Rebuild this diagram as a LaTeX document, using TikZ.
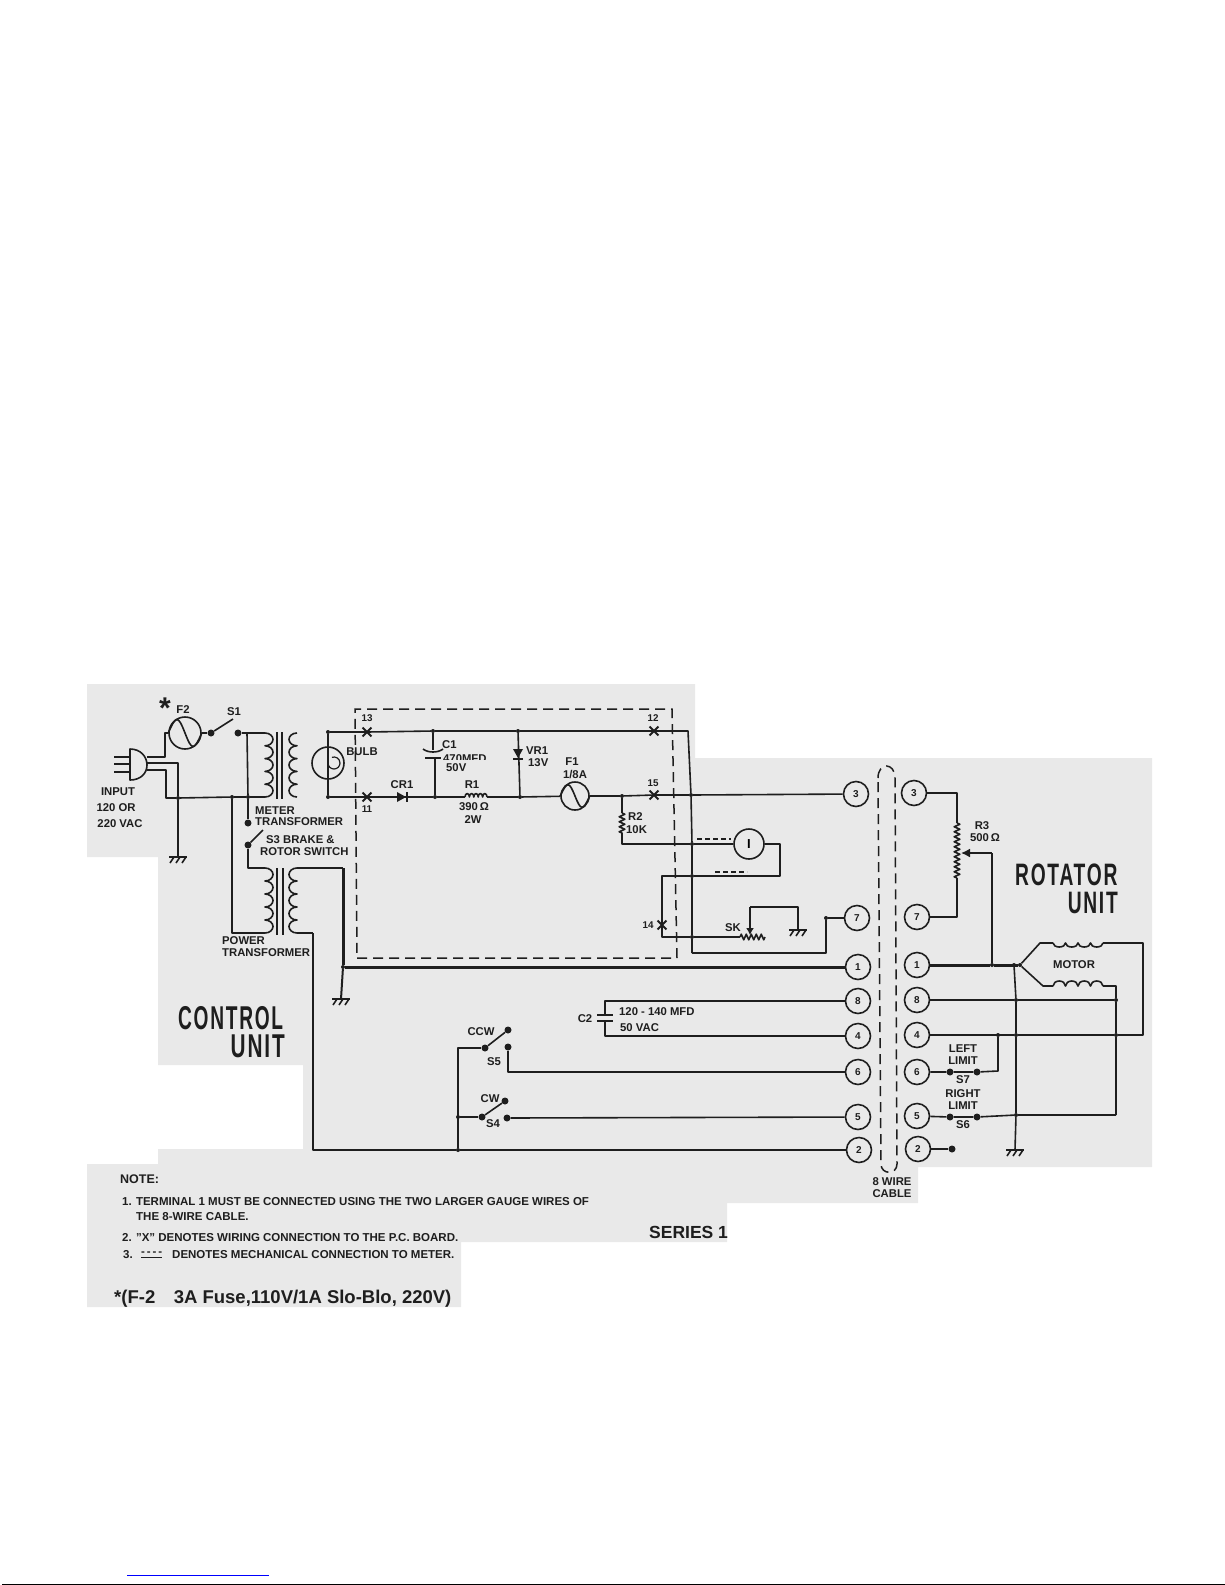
\documentclass[tikz,border=0pt]{standalone}
\usepackage{fontspec}
\usepackage{graphicx}
\setmainfont{Liberation Sans}
\newfontfamily\headfont[LetterSpace=9]{Liberation Sans}
\usetikzlibrary{shapes.misc,decorations.pathmorphing,arrows.meta}
\definecolor{panelgray}{HTML}{E9E9E9}
\definecolor{ink}{HTML}{1E1E1E}
\tikzset{
	wire/.style={draw=ink,line width=1.6pt,line join=round},
	heavy/.style={draw=ink,line width=3pt,line join=round},
	dot/.style={circle,fill=ink,inner sep=0pt,minimum size=7pt},
	jn/.style={circle,fill=ink,inner sep=0pt,minimum size=4pt},
	term/.style={circle,draw=ink,line width=1.6pt,inner sep=0pt,minimum size=25pt,font=\fontsize{10}{10}\selectfont\bfseries,text=ink},
	ring/.style={circle,draw=ink,line width=1.6pt,inner sep=0pt,minimum size=#1},
	xmark/.style={cross out,draw=ink,line width=1.8pt,inner sep=0pt,minimum size=7pt},
	lab/.style={inner sep=0pt,text=ink,font=\fontsize{11.3}{12}\selectfont\bfseries},
	smalllab/.style={inner sep=0pt,text=ink,font=\fontsize{9.8}{11}\selectfont\bfseries},
	notelab/.style={inner sep=0pt,anchor=west,text=ink,font=\fontsize{11.5}{12}\selectfont\bfseries},
	cablewall/.style={draw=ink,line width=1.5pt,dash pattern=on 10pt off 6pt},
	mech/.style={draw=ink,line width=1.6pt,dash pattern=on 5pt off 3pt},
	zig/.style={wire,decorate,decoration={zigzag,amplitude=2.8pt,segment length=5pt}},
	pics/gnd/.style={code={
		\draw[wire](-9,0)--(9,0);
		\foreach \t in {-6,0,6}{\draw[wire](\t+2,0)--(\t-2,6);}
	}},
	pics/diode/.style={code={
		\fill[ink](-5,-5)--(-5,5)--(4,0)--cycle;
		\draw[wire](5,-5)--(5,5);
	}},
}
\newcommand{\coilv}[5]{\draw[wire](#1)\foreach \k in {1,...,#2}{arc[start angle=-90,end angle=#5,x radius=#4,y radius=#3]};}
\newcommand{\coilh}[5]{\draw[wire](#1)\foreach \k in {1,...,#2}{arc[start angle=180,end angle=#5,x radius=#3,y radius=#4]};}
\begin{document}
\begin{tikzpicture}[x=1pt,y=-1pt]
	\useasboundingbox(0,0)rectangle(1225,1585);
	\fill[panelgray](87,684)--(695,684)--(695,758)--(1152,758)--(1152,1167)--(918,1167)--(918,1203)--(727,1203)--(727,1242)--(461,1242)--(461,1307)--(87,1307)--(87,1164)--(158,1164)--(158,1149)--(303,1149)--(303,1065)--(158,1065)--(158,857)--(87,857)--cycle;
	\draw[blue,line width=1pt](127,1575)--(269,1575);
	\draw[black,line width=1.2pt](2,1584.4)--(1225,1584.4);

	\coordinate(plug1) at (130,749);
	\coordinate(plug2) at (130,780);
	\coordinate(pl1) at (147,757);
	\coordinate(pl2) at (147,763);
	\coordinate(pl3) at (147,770);
	\draw[wire](plug1)..controls (141,749) and (147,757)..(147,765)..controls (147,773) and (141,780)..(plug2)--cycle;
	\draw[wire](114,757)--(130,757);
	\draw[wire](114,764)--(130,764);
	\draw[wire](114,772)--(130,772);
	\node[ring=32pt](f2) at (185,733){};
	\draw[wire](pl1)-|(165,733)--(f2);
	\draw[wire](f2.west)..controls +(8,-18) and +(-7,-18)..(f2.center)..controls +(7,18) and +(-8,18)..(f2.east);
	\node[dot](s1a) at (211,733){};
	\node[dot](s1b) at (238,733){};
	\coordinate(s1t) at (233,719);
	\draw[wire](f2)--(s1a);
	\draw[wire](s1a)--(s1t);
	\node[jn](jgnd) at (178,798){};
	\node[jn](jpw) at (232,797){};
	\node[jn](jmt) at (248,797){};
	\coordinate(mp1) at (265,733);
	\coordinate(mp2) at (265,797);
	\coordinate(ms1) at (297,733);
	\coordinate(ms2) at (297,797);
	\draw[wire](s1b)--(mp1);
	\draw[wire](247,733)--(jmt);
	\draw[wire](pl2)-|(jgnd);
	\draw[wire](pl3)-|(166,798)--(jgnd)--(jpw)--(jmt)--(mp2);
	\coilv{mp1}{5}{6.4}{8}{90}
	\coilv{ms1}{5}{6.4}{8}{-270}
	\draw[wire](277,732)--(277,799);
	\draw[wire](282,732)--(282,799);
	\coordinate(gnd1) at (178,857);
	\draw[wire](jgnd)--(gnd1);
	\pic at (gnd1){gnd};
	\node[dot](s3a) at (248,823){};
	\node[dot](s3b) at (248,845){};
	\coordinate(s3t) at (263,830);
	\draw[wire](jmt)--(s3a);
	\draw[wire](s3b)--(s3t);
	\coordinate(pp1) at (265,868);
	\coordinate(pp2) at (265,933);
	\coordinate(ps1) at (297,868);
	\coordinate(ps2) at (297,933);
	\draw[wire](s3b)|-(pp1);
	\draw[wire](jpw)|-(pp2);
	\coilv{pp1}{5}{6.5}{8}{90}
	\coilv{ps1}{5}{6.5}{8}{-270}
	\draw[wire](277,868)--(277,935);
	\draw[wire](283,868)--(283,935);

	\node[jn](jb1) at (328,732){};
	\node[jn](jb2) at (328,797){};
	\node[ring=32pt](bulb) at (328,763){};
	\draw[wire](jb1)--(jb2);
	\draw[wire,line width=1.2pt](bulb.center)arc[start angle=180,end angle=-110,radius=6];
	\node[xmark](x13) at (367,732){};
	\node[xmark](x12) at (654,731){};
	\node[xmark](x11) at (367,797){};
	\node[xmark](x15) at (654,795){};
	\node[xmark](x14) at (662,925){};
	\node[jn](jc1) at (433,731){};
	\node[jn](jz1) at (518,731){};
	\node[jn](jc2) at (435,797){};
	\node[jn](jz2) at (520,797){};
	\node[jn](jr2) at (622,796){};
	\coordinate(ctr) at (688,731);
	\node[jn](jv3) at (691,795){};
	\node[jn](jv2) at (692,844){};
	\node[jn](jv1) at (692,876){};
	\node[jn](jv0) at (692,937){};
	\coordinate(cvb) at (692,953);
	\draw[wire](jb1)--(x13.center)--(jc1)--(jz1)--(x12.center)--(ctr)--(jv3)--(jv2)--(jv1)--(jv0)--(cvb);
	\coordinate(r1a) at (465,797);
	\coordinate(r1b) at (487,797);
	\node[ring=28pt](f1) at (575,796){};
	\draw[wire](f1.west)..controls +(7,-15) and +(-6,-15)..(f1.center)..controls +(6,15) and +(-7,15)..(f1.east);
	\draw[wire](jb2)--(x11.center)--(jc2)--(r1a);
	\coilh{r1a}{5}{2.2}{3.5}{360}
	\draw[wire](r1b)--(jz2)--(f1);
	\pic at (402,797){diode};
	\draw[wire](f1)--(jr2)--(x15.center)--(jv3);
	\coordinate(c1a) at (433,750);
	\coordinate(c1b) at (435,758);
	\draw[wire](jc1)--(c1a);
	\draw[wire](c1b)--(jc2);
	\draw[wire](423,749)..controls (428,753) and (438,753)..(443,749);
	\draw[wire](425,758)--(441,758);
	\draw[wire](jz1)--(jz2);
	\pic[rotate=-90] at (518,754){diode};
	\coordinate(r2a) at (622,813);
	\coordinate(r2b) at (622,834);
	\coordinate(r2c) at (622,844);
	\draw[wire](jr2)--(r2a);
	\draw[zig](r2a)--(r2b);
	\draw[wire](r2b)--(r2c)--(jv2);

	\draw[cablewall](357,958)--(677,958)--(672,709)--(355,709)--cycle;

	\node[ring=30pt](meter) at (749,844){\fontsize{13}{13}\selectfont\bfseries I};
	\draw[wire](jv2)--(meter);
	\coordinate(m1a) at (697,839);
	\coordinate(m1b) at (731,839);
	\coordinate(m2a) at (715,872);
	\coordinate(m2b) at (747,872);
	\draw[mech](m1a)--(m1b);
	\draw[mech](m2a)--(m2b);
	\coordinate(cm) at (780,876);
	\draw[wire](meter)-|(cm)--(jv1);
	\coordinate(c14a) at (662,876);
	\coordinate(c14b) at (662,937);
	\draw[wire](jv1)--(c14a)--(x14.center)--(c14b)--(jv0);
	\coordinate(ska) at (740,937);
	\coordinate(skb) at (765,937);
	\draw[wire](jv0)--(ska);
	\draw[zig](ska)--(skb);
	\coordinate(skw) at (750,907);
	\coordinate(skg) at (798,930);
	\draw[wire,-{Latex[length=7pt,width=8pt]}](skw)--(750,935);
	\draw[wire](skw)-|(skg);
	\pic at (skg){gnd};

	\node[term](la3) at (856,794){3};
	\node[term](la7) at (857,918){7};
	\node[term](la1) at (858,967){1};
	\node[term](la8) at (858,1001){8};
	\node[term](la4) at (858,1036){4};
	\node[term](la6) at (858,1072){6};
	\node[term](la5) at (858,1117){5};
	\node[term](la2) at (859,1150){2};
	\node[term](ri3) at (914,793){3};
	\node[term](ri7) at (917,917){7};
	\node[term](ri1) at (917,965){1};
	\node[term](ri8) at (917,1000){8};
	\node[term](ri4) at (917,1035){4};
	\node[term](ri6) at (917,1072){6};
	\node[term](ri5) at (917,1116){5};
	\node[term](ri2) at (918,1149){2};
	\draw[wire](jv3)--(la3);
	\node[jn](j7) at (826,918){};
	\draw[wire](cvb)-|(j7)--(la7);

	\draw[cablewall](878,778)..controls (878,762) and (895,762)..(895,778)--(897,1164)..controls (897,1175) and (881,1175)..(881,1164)--cycle;

	\coordinate(ch) at (343,868);
	\node[jn](jh) at (343,967){};
	\coordinate(gnd2) at (341,999);
	\draw[wire,line width=2pt](ps1)--(ch);
	\draw[heavy](ch)--(jh)--(la1);
	\draw[wire,line width=2pt](jh)--(gnd2);
	\pic at (gnd2){gnd};
	\coordinate(cb1) at (313,933);
	\coordinate(cb2) at (313,1150);
	\node[jn](jb) at (458,1150){};
	\draw[wire](ps2)--(cb1);
	\draw[wire,line width=2pt](cb1)--(cb2)--(jb);
	\draw[wire,line width=2.4pt](jb)--(la2);

	\node[dot](s5a) at (485,1048){};
	\node[dot](s5b) at (508,1030){};
	\node[dot](s5c) at (508,1047){};
	\coordinate(cs5) at (508,1072);
	\draw[wire,line width=2pt](jb)|-(s5a);
	\draw[wire](s5a)--(s5b);
	\draw[wire](s5c)--(cs5)--(la6);
	\node[dot](s4a) at (482,1117){};
	\node[dot](s4b) at (505,1101){};
	\node[dot](s4c) at (507,1118){};
	\node[jn](j4) at (458,1117){};
	\draw[wire](j4)--(s4a);
	\draw[wire](s4a)--(s4b);
	\draw[wire](s4c)--(la5);
	\coordinate(c2a) at (605,1001);
	\coordinate(c2b) at (605,1015);
	\coordinate(c2c) at (605,1021);
	\coordinate(c2d) at (605,1036);
	\draw[wire](la8)--(c2a)--(c2b);
	\draw[wire](c2c)--(c2d)--(la4);
	\draw[wire](597,1015)--(613,1015);
	\draw[wire](597,1021)--(613,1021);

	\coordinate(r3a) at (957,823);
	\coordinate(r3b) at (957,878);
	\draw[wire](ri3)-|(r3a);
	\draw[zig](r3a)--(r3b);
	\draw[wire](r3b)|-(ri7);
	\coordinate(r3w) at (992,853);
	\node[jn](j1w) at (992,965){};
	\draw[wire,-{Latex[length=9pt,width=9pt]}](r3w)--(961,853);
	\draw[wire](r3w)--(j1w);
	\node[jn](jmot) at (1020,965){};
	\node[jn](jg) at (1014,965){};
	\draw[heavy](ri1)--(j1w)--(jmot);
	\coordinate(mo1) at (1040,943);
	\coordinate(mo2) at (1053,943);
	\coordinate(mo3) at (1103,943);
	\coordinate(mo4) at (1143,943);
	\coordinate(mo5) at (1043,986);
	\coordinate(mo6) at (1053,986);
	\coordinate(mo7) at (1103,986);
	\coordinate(mo8) at (1116,986);
	\draw[wire](jmot)--(mo1)--(mo2);
	\draw[wire](jmot)--(mo5)--(mo6);
	\coilh{mo2}{4}{6.25}{4}{0}
	\coilh{mo6}{4}{6.25}{5}{360}
	\node[jn](jr44) at (1116,1035){};
	\node[jn](jr88) at (1116,1000){};
	\node[jn](jg8) at (1016,1000){};
	\node[jn](jg4) at (1016,1035){};
	\node[jn](jg5) at (1016,1115){};
	\coordinate(cr5) at (1116,1115);
	\coordinate(gnd3) at (1015,1150);
	\draw[wire](mo3)--(mo4)--(1143,1035)--(jr44);
	\draw[wire](mo7)--(mo8)--(jr88)--(jr44)--(cr5);
	\draw[wire](ri8)--(jg8)--(jr88);
	\draw[wire](ri4)--(jg4)--(jr44);
	\draw[wire](jg)--(jg8)--(jg4)--(jg5)--(gnd3);
	\pic at (gnd3){gnd};
	\node[dot](s7a) at (950,1072){};
	\node[dot](s7b) at (977,1072){};
	\node[jn](j74) at (998,1035){};
	\coordinate(c7) at (998,1071);
	\draw[wire](ri6)--(s7a)--(s7b)--(c7)--(j74);
	\node[dot](s6a) at (950,1117){};
	\node[dot](s6b) at (977,1117){};
	\draw[wire](ri5)--(s6a)--(s6b)--(jg5)--(cr5);
	\node[dot](e2) at (952,1149){};
	\draw[wire](ri2)--(e2);

	\node[lab,font=\fontsize{30}{30}\selectfont\bfseries](star) at (165,708){*};
	\node[lab](tf2) at (183,710){F2};
	\node[lab](ts1) at (234,712){S1};
	\node[lab](tin1) at (118,792){INPUT};
	\node[lab](tin2) at (116,808){120 OR};
	\node[lab](tin3) at (120,824){220 VAC};
	\node[lab,anchor=west](tmt1) at (255,811){METER};
	\node[lab,anchor=west](tmt2) at (255,822){TRANSFORMER};
	\node[lab,anchor=west](ts31) at (266,840){S3 BRAKE \&};
	\node[lab,anchor=west](ts32) at (260,852){ROTOR SWITCH};
	\node[lab,anchor=west](tpt1) at (222,941){POWER};
	\node[lab,anchor=west](tpt2) at (222,953){TRANSFORMER};
	\node[lab](tbulb) at (362,752){BULB};
	\node[smalllab](t13) at (367,718){13};
	\node[smalllab](t12) at (653,718){12};
	\node[smalllab](t11) at (367,809){11};
	\node[smalllab](t15) at (653,783){15};
	\node[smalllab](t14) at (648,925){14};
	\node[lab,anchor=west](tc1) at (442,745){C1};
	\begin{scope}
		\clip(440,745)rectangle(500,759);
		\node[lab,anchor=west](tc1v) at (443,759){470MFD};
	\end{scope}
	\node[lab,anchor=west](tc1w) at (446,768){50V};
	\node[lab,anchor=west](tvr1) at (526,751){VR1};
	\node[lab,anchor=west](tvr2) at (528,763){13V};
	\node[lab](tf1) at (572,762){F1};
	\node[lab](tf1v) at (575,775){1/8A};
	\node[lab](tcr1) at (402,785){CR1};
	\node[lab](tr1) at (472,785){R1};
	\node[lab](tr1v) at (474,807){390\,Ω};
	\node[lab](tr1w) at (473,820){2W};
	\node[lab,anchor=west](tr2) at (628,817){R2};
	\node[lab,anchor=west](tr2v) at (626,830){10K};
	\node[lab](tsk) at (733,928){SK};
	\node[lab](tr3) at (982,826){R3};
	\node[lab](tr3v) at (985,838){500\,Ω};
	\node[lab](tmotor) at (1074,965){MOTOR};
	\node[lab](tc2) at (585,1019){C2};
	\node[lab,anchor=west](tc2a) at (619,1012){120 - 140 MFD};
	\node[lab,anchor=west](tc2b) at (620,1028){50 VAC};
	\node[lab](tccw) at (481,1032){CCW};
	\node[lab](ts5) at (494,1062){S5};
	\node[lab](tcw) at (490,1099){CW};
	\node[lab](ts4) at (493,1124){S4};
	\node[lab](tll1) at (963,1049){LEFT};
	\node[lab](tll2) at (963,1061){LIMIT};
	\node[lab](ts7) at (963,1080){S7};
	\node[lab](trl1) at (963,1094){RIGHT};
	\node[lab](trl2) at (963,1106){LIMIT};
	\node[lab](ts6) at (963,1125){S6};
	\node[lab](tca1) at (892,1182){8 WIRE};
	\node[lab](tca2) at (892,1194){CABLE};
	\node[inner sep=0pt,text=ink,anchor=south west](tcu1) at (178,1030){\scalebox{0.58}[1]{\headfont\fontsize{33}{33}\selectfont\bfseries CONTROL}};
	\node[inner sep=0pt,text=ink,anchor=south east](tcu2) at (285,1058){\scalebox{0.63}[1]{\headfont\fontsize{33}{33}\selectfont\bfseries UNIT}};
	\node[inner sep=0pt,text=ink,anchor=south west](tru1) at (1015,886){\scalebox{0.62}[1]{\headfont\fontsize{31}{31}\selectfont\bfseries ROTATOR}};
	\node[inner sep=0pt,text=ink,anchor=south east](tru2) at (1118,914){\scalebox{0.62}[1]{\headfont\fontsize{31}{31}\selectfont\bfseries UNIT}};
	\node[notelab,font=\fontsize{12.5}{13}\selectfont\bfseries](tnote) at (120,1179){NOTE:};
	\node[notelab](tn1) at (122,1202){1. TERMINAL 1 MUST BE CONNECTED USING THE TWO LARGER GAUGE WIRES OF};
	\node[notelab](tn1b) at (136,1217){THE 8-WIRE CABLE.};
	\begin{scope}
		\clip(110,1228)rectangle(470,1241.5);
		\node[notelab](tn2) at (122,1238){2. "X" DENOTES WIRING CONNECTION TO THE P.C. BOARD.};
	\end{scope}
	\node[notelab](tn3) at (123,1255){3.};
	\node[notelab](tn3d) at (141,1255){\underline{-\,-\,-\,-}};
	\node[notelab](tn3t) at (172,1255){DENOTES MECHANICAL CONNECTION TO METER.};
	\node[notelab,font=\fontsize{18.5}{19}\selectfont\bfseries](tfuse) at (114,1299){*(F-2\quad 3A Fuse,110V/1A Slo-Blo, 220V)};
	\node[notelab,font=\fontsize{17.5}{18}\selectfont\bfseries](tseries) at (649,1232){SERIES 1};
\end{tikzpicture}
\end{document}
